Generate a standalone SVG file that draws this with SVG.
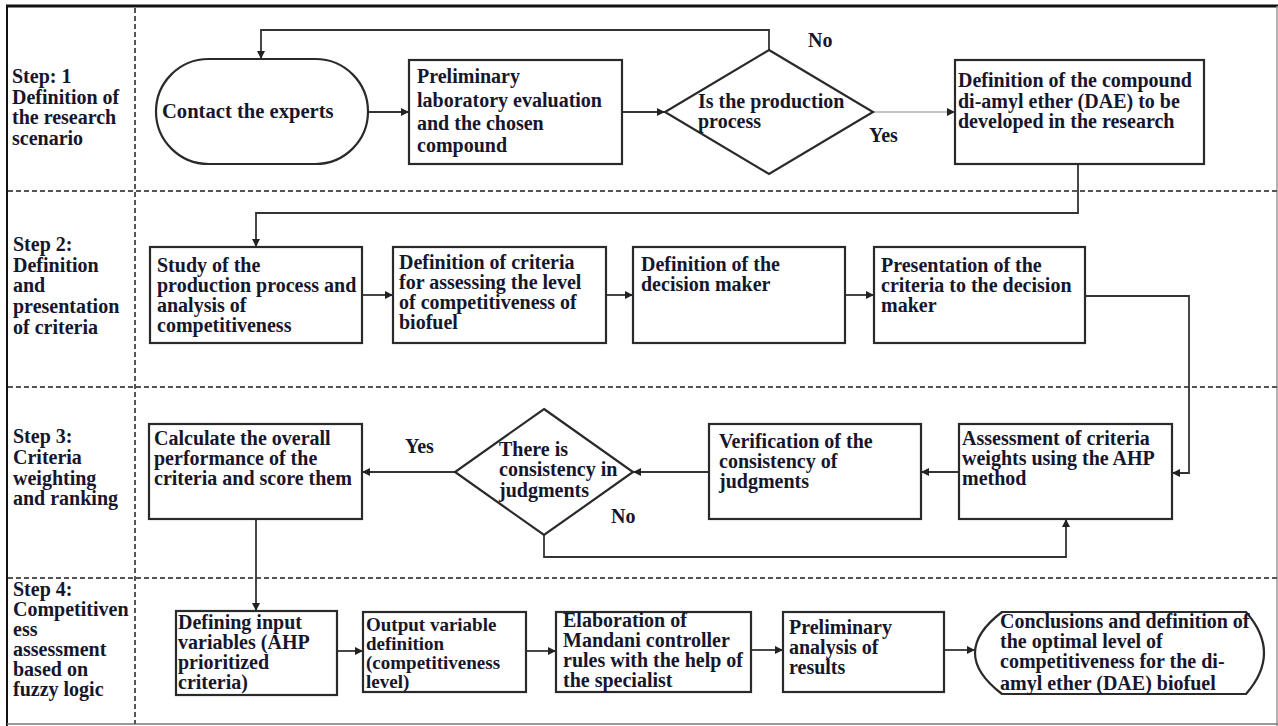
<svg xmlns="http://www.w3.org/2000/svg" width="1278" height="726" viewBox="0 0 1278 726">
<defs>
<marker id="ah" viewBox="0 0 10 10" refX="10" refY="5" markerWidth="8" markerHeight="8" markerUnits="userSpaceOnUse" orient="auto">
<path d="M0,0 L10,5 L0,10 Z" fill="#222"/>
</marker>
<style>
.t{font-family:"Liberation Serif","Times New Roman",serif;font-weight:bold;font-size:20px;fill:#16162c}
.s{font-size:20px}
.box{fill:#fff;stroke:#2a2a2a;stroke-width:2.2}
.conn{fill:none;stroke:#333;stroke-width:1.8}
.thin{fill:none;stroke:#888;stroke-width:1.2}
.dash{stroke:#555;stroke-width:2;stroke-dasharray:5 3;fill:none}
</style>
</defs>
<rect x="0" y="0" width="1278" height="726" fill="#fff"/>
<g id="frame">
<line x1="6" y1="6" x2="1278" y2="6" stroke="#111" stroke-width="3"/>
<line x1="7" y1="6" x2="7" y2="726" stroke="#111" stroke-width="2"/>
<line x1="1277" y1="6" x2="1277" y2="726" stroke="#999" stroke-width="1.5"/>
<line x1="7" y1="724" x2="1278" y2="724" stroke="#777" stroke-width="1.5"/>
<line class="dash" x1="135" y1="8" x2="135" y2="724"/>
<line class="dash" x1="8" y1="191" x2="1277" y2="191"/>
<line class="dash" x1="8" y1="387" x2="1277" y2="387"/>
<line class="dash" x1="8" y1="578" x2="1277" y2="578"/>
</g>
<g id="step1" class="t s">
<text x="12" y="83">Step: 1</text>
<text x="12" y="104">Definition of</text>
<text x="12" y="124">the research</text>
<text x="12" y="145">scenario</text>
</g>
<g id="step2" class="t s">
<text x="13" y="251">Step 2:</text>
<text x="13" y="272">Definition</text>
<text x="13" y="292">and</text>
<text x="13" y="313">presentation</text>
<text x="13" y="334">of criteria</text>
</g>
<g id="step3" class="t s">
<text x="13" y="443">Step 3:</text>
<text x="13" y="464">Criteria</text>
<text x="13" y="485">weighting</text>
<text x="13" y="505">and ranking</text>
</g>
<g id="step4" class="t s">
<text x="13" y="596">Step 4:</text>
<text x="13" y="616">Competitiven</text>
<text x="13" y="636">ess</text>
<text x="13" y="656">assessment</text>
<text x="13" y="676">based on</text>
<text x="13" y="696">fuzzy logic</text>
</g>
<g id="connectors">
<polyline class="conn" points="769,50 769,30 261,30 261,59" marker-end="url(#ah)"/>
<line class="conn" x1="368" y1="112" x2="409" y2="112" marker-end="url(#ah)"/>
<line class="conn" x1="622" y1="112" x2="665" y2="112" marker-end="url(#ah)"/>
<line class="thin" x1="873" y1="112" x2="955" y2="112" marker-end="url(#ah)"/>
<polyline class="conn" points="1078,164 1078,213 256,213 256,247" marker-end="url(#ah)"/>
<line class="conn" x1="362" y1="295" x2="393" y2="295" marker-end="url(#ah)"/>
<line class="conn" x1="606" y1="295" x2="633" y2="295" marker-end="url(#ah)"/>
<line class="conn" x1="845" y1="295" x2="874" y2="295" marker-end="url(#ah)"/>
<polyline class="conn" points="1085,296 1189,296 1189,473 1172,473" marker-end="url(#ah)"/>
<line class="conn" x1="959" y1="472" x2="921" y2="472" marker-end="url(#ah)"/>
<line class="conn" x1="709" y1="472" x2="633" y2="472" marker-end="url(#ah)"/>
<line class="conn" x1="455" y1="472" x2="362" y2="472" marker-end="url(#ah)"/>
<polyline class="conn" points="544,535 544,557 1066,557 1066,519" marker-end="url(#ah)"/>
<line class="conn" x1="256" y1="519" x2="256" y2="611" marker-end="url(#ah)"/>
<line class="conn" x1="337" y1="651" x2="363" y2="651" marker-end="url(#ah)"/>
<line class="conn" x1="526" y1="651" x2="556" y2="651" marker-end="url(#ah)"/>
<line class="conn" x1="751" y1="650" x2="783" y2="650" marker-end="url(#ah)"/>
<line class="conn" x1="944" y1="650" x2="975" y2="650" marker-end="url(#ah)"/>
<text class="t" x="808" y="47">No</text>
<text class="t" x="869" y="142">Yes</text>
<text class="t" x="405" y="453">Yes</text>
<text class="t" x="611" y="523">No</text>
</g>
<g id="contact">
<rect class="box" x="156" y="59" width="212" height="105" rx="52.5"/>
<text class="t" x="162" y="118" style="font-size:20.6px">Contact the experts</text>
</g>
<g id="prelim">
<rect class="box" x="409" y="60" width="213" height="104"/>
<g class="t"><text x="417" y="83">Preliminary</text><text x="417" y="107">laboratory evaluation</text><text x="417" y="130">and the chosen</text><text x="417" y="152">compound</text></g>
</g>
<g id="decision1">
<polygon class="box" points="769,50 873,112 769,174 665,112"/>
<g class="t"><text x="698" y="108">Is the production</text><text x="698" y="128">process</text></g>
</g>
<g id="dae">
<rect class="box" x="955" y="60" width="249" height="104"/>
<g class="t"><text x="958" y="87">Definition of the compound</text><text x="958" y="108">di-amyl ether (DAE) to be</text><text x="958" y="128">developed in the research</text></g>
</g>
<g id="study">
<rect class="box" x="150" y="247" width="212" height="96"/>
<g class="t"><text x="157" y="272">Study of the</text><text x="157" y="292">production process and</text><text x="157" y="312">analysis of</text><text x="157" y="332">competitiveness</text></g>
</g>
<g id="criteria">
<rect class="box" x="393" y="247" width="213" height="96"/>
<g class="t"><text x="399" y="269">Definition of criteria</text><text x="399" y="289">for assessing the level</text><text x="399" y="309">of competitiveness of</text><text x="399" y="329">biofuel</text></g>
</g>
<g id="maker">
<rect class="box" x="633" y="247" width="212" height="96"/>
<g class="t"><text x="641" y="271">Definition of the</text><text x="641" y="291">decision maker</text></g>
</g>
<g id="present">
<rect class="box" x="874" y="247" width="211" height="96"/>
<g class="t"><text x="881" y="272">Presentation of the</text><text x="881" y="292">criteria to the decision</text><text x="881" y="312">maker</text></g>
</g>
<g id="calc">
<rect class="box" x="149" y="424" width="213" height="95"/>
<g class="t"><text x="154" y="445">Calculate the overall</text><text x="154" y="465">performance of the</text><text x="154" y="485">criteria and score them</text></g>
</g>
<g id="decision2">
<polygon class="box" points="544,409 633,472 544,535 455,472"/>
<g class="t"><text x="499" y="456">There is</text><text x="499" y="476">consistency in</text><text x="499" y="497">judgments</text></g>
</g>
<g id="verify">
<rect class="box" x="709" y="424" width="212" height="95"/>
<g class="t"><text x="719" y="448">Verification of the</text><text x="719" y="468">consistency of</text><text x="719" y="488">judgments</text></g>
</g>
<g id="assess">
<rect class="box" x="959" y="424" width="213" height="95"/>
<g class="t"><text x="962" y="445">Assessment of criteria</text><text x="962" y="465">weights using the AHP</text><text x="962" y="485">method</text></g>
</g>
<g id="inputs">
<rect class="box" x="176" y="611" width="161" height="84"/>
<g class="t"><text x="178" y="629">Defining input</text><text x="178" y="649">variables (AHP</text><text x="178" y="669">prioritized</text><text x="178" y="689">criteria)</text></g>
</g>
<g id="output">
<rect class="box" x="363" y="612" width="163" height="80"/>
<g class="t" style="font-size:19px"><text x="366" y="631">Output variable</text><text x="366" y="650">definition</text><text x="366" y="669">(competitiveness</text><text x="366" y="688">level)</text></g>
</g>
<g id="mandani">
<rect class="box" x="556" y="612" width="195" height="80"/>
<g class="t"><text x="563" y="627">Elaboration of</text><text x="563" y="647">Mandani controller</text><text x="563" y="667">rules with the help of</text><text x="563" y="687">the specialist</text></g>
</g>
<g id="analysis">
<rect class="box" x="783" y="612" width="161" height="80"/>
<g class="t"><text x="789" y="634">Preliminary</text><text x="789" y="654">analysis of</text><text x="789" y="674">results</text></g>
</g>
<g id="conclusions">
<path class="box" d="M1002,612 L1246,612 Q1282,653 1246,694 L1002,694 Q948,653 1002,612 Z"/>
<g class="t"><text x="1000" y="628">Conclusions and definition of</text><text x="1000" y="648">the optimal level of</text><text x="1000" y="668">competitiveness for the di-</text><text x="1000" y="690">amyl ether (DAE) biofuel</text></g>
</g>
</svg>
